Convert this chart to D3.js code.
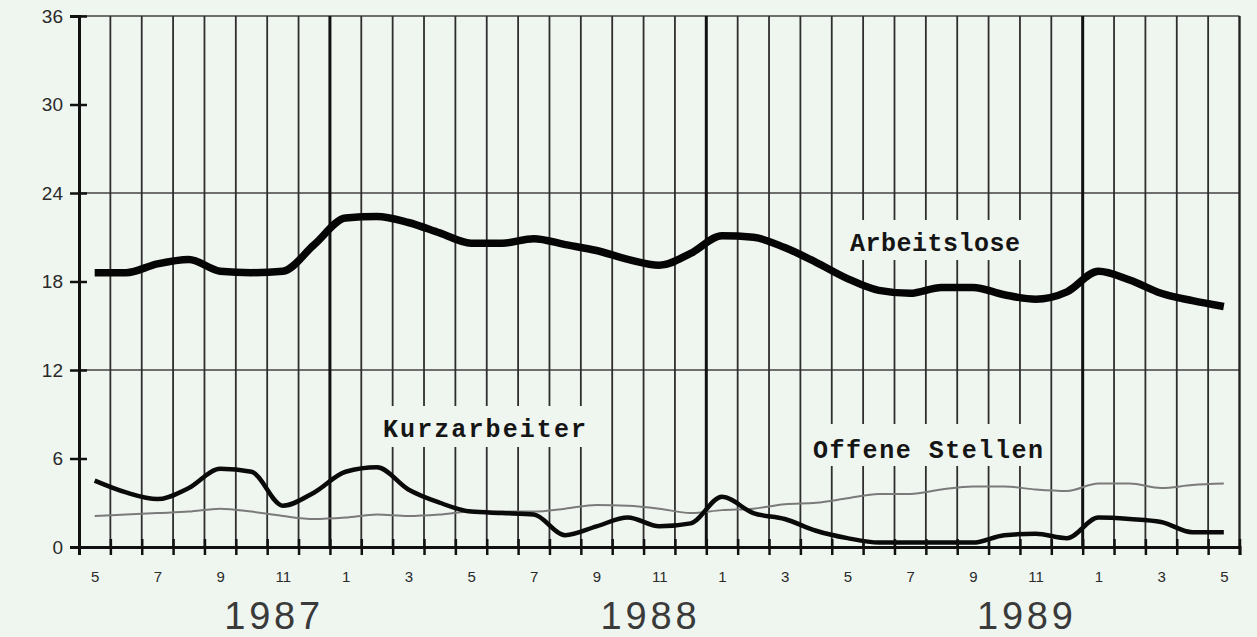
<!DOCTYPE html>
<meta charset="utf-8">
<style>
  html, body { margin: 0; padding: 0; background: #eff6f0; }
  svg { display: block; }
  .lbl { font-family: "Liberation Mono", "DejaVu Sans Mono", monospace; font-weight: bold; fill: #151515; }
</style>
<body>
<div id="chart"></div>
<script src="https://d3js.org/d3.v7.min.js"></script>
<script>
// month numbers, May 1987 .. May 1990
const months = [5,6,7,8,9,10,11,12, 1,2,3,4,5,6,7,8,9,10,11,12, 1,2,3,4,5,6,7,8,9,10,11,12, 1,2,3,4,5];
const yearNames = ["1987", "1988", "1989"];
const yearLabelMonth = [6, 18, 30];   // index of the month the year name sits under
const yTicks = [0, 6, 12, 18, 24, 30, 36];
const yGrid = [12, 24, 36];

// values in 100 000
const arbeitslose = [18.6, 18.6, 19.2, 19.5, 18.7, 18.6, 18.7, 20.5, 22.3, 22.4, 22.0, 21.3,
  20.6, 20.6, 20.9, 20.5, 20.1, 19.5, 19.1, 19.9, 21.1, 21.0, 20.3, 19.3,
  18.2, 17.4, 17.2, 17.6, 17.6, 17.1, 16.8, 17.3, 18.7, 18.1, 17.2, 16.7, 16.3];
const kurzarbeiter = [4.5, 3.7, 3.25, 4.0, 5.3, 5.1, 2.8, 3.7, 5.1, 5.4, 3.9, 3.0,
  2.4, 2.3, 2.2, 0.8, 1.4, 2.0, 1.4, 1.6, 3.4, 2.3, 1.9, 1.1,
  0.6, 0.3, 0.3, 0.3, 0.3, 0.8, 0.9, 0.6, 2.0, 1.9, 1.7, 1.0, 1.0];
const offeneStellen = [2.1, 2.2, 2.3, 2.4, 2.6, 2.4, 2.1, 1.9, 2.0, 2.2, 2.1, 2.2,
  2.4, 2.4, 2.4, 2.6, 2.85, 2.8, 2.6, 2.3, 2.5, 2.6, 2.9, 3.0,
  3.3, 3.6, 3.6, 3.9, 4.1, 4.1, 3.9, 3.8, 4.3, 4.3, 4.0, 4.2, 4.3];

const width = 1257, height = 637;
const margin = {left: 79, right: 17.5, top: 16, bottom: 90};
const bg = "#eff6f0";

const svg = d3.select("#chart").append("svg")
    .attr("width", width)
    .attr("height", height);

const x = d3.scaleLinear().domain([0, months.length]).range([margin.left, width - margin.right]);
const y = d3.scaleLinear().domain([0, 36]).range([height - margin.bottom, margin.top]);

// horizontal grid
svg.append("g").selectAll("line")
    .data(yGrid).join("line")
    .attr("x1", x(0)).attr("x2", x(months.length))
    .attr("y1", d => y(d)).attr("y2", d => y(d))
    .attr("stroke", "#6f6f6f").attr("stroke-width", 2);

// vertical grid, one line per month boundary; heavier at year change
svg.append("g").selectAll("line")
    .data(d3.range(1, months.length + 1)).join("line")
    .attr("x1", d => x(d)).attr("x2", d => x(d))
    .attr("y1", y(36)).attr("y2", y(0))
    .attr("stroke", d => (d < months.length && months[d] === 1) ? "#111" : "#2e2e2e")
    .attr("stroke-width", d => (d < months.length && months[d] === 1) ? 3 : 1.8);

// label boxes cut the grid
const labels = [
  {text: "Arbeitslose", x0: 840, x1: 1035, y0: 220, y1: 260, tx: 850, ty: 251, w: 170},
  {text: "Kurzarbeiter", x0: 375, x1: 598, y0: 406, y1: 447, tx: 383, ty: 437, w: 203},
  {text: "Offene Stellen", x0: 806, x1: 1048, y0: 424, y1: 466, tx: 813, ty: 458, w: 230}
];
svg.append("g").selectAll("rect")
    .data(labels).join("rect")
    .attr("x", d => d.x0).attr("y", d => d.y0)
    .attr("width", d => d.x1 - d.x0).attr("height", d => d.y1 - d.y0)
    .attr("fill", bg);

// series
const line = d3.line()
    .x((d, i) => x(i + 0.5))
    .y(d => y(d))
    .curve(d3.curveMonotoneX);

svg.append("path").datum(offeneStellen)
    .attr("d", line).attr("fill", "none")
    .attr("stroke", "#7a7a7a").attr("stroke-width", 2);
svg.append("path").datum(kurzarbeiter)
    .attr("d", line).attr("fill", "none")
    .attr("stroke", "#0a0a0a").attr("stroke-width", 4.5).attr("stroke-linejoin", "round");
svg.append("path").datum(arbeitslose)
    .attr("d", line).attr("fill", "none")
    .attr("stroke", "#050505").attr("stroke-width", 7.5).attr("stroke-linejoin", "round");

// right border
svg.append("line")
    .attr("x1", x(months.length)).attr("x2", x(months.length))
    .attr("y1", y(36)).attr("y2", y(0))
    .attr("stroke", "#222").attr("stroke-width", 2);

// y axis
const yAxis = svg.append("g")
    .attr("transform", `translate(${margin.left},0)`)
    .call(d3.axisLeft(y).tickValues(yTicks).tickSize(9).tickPadding(7));
yAxis.select(".domain").attr("stroke", "#111").attr("stroke-width", 3);
yAxis.selectAll(".tick line").attr("x1", 8).attr("stroke", "#111").attr("stroke-width", 2.5);
yAxis.selectAll(".tick text")
    .attr("fill", "#2a2a2a")
    .style("font-family", "Liberation Sans, Arial, sans-serif")
    .style("font-size", "19px");

// x axis: ticks at month boundaries
const xAxis = svg.append("g")
    .attr("transform", `translate(0,${y(0)})`)
    .call(d3.axisBottom(x).tickValues(d3.range(0, months.length + 1)).tickSize(8).tickFormat(""));
xAxis.select(".domain").attr("stroke", "#111").attr("stroke-width", 3);
xAxis.selectAll(".tick line").attr("y1", -8).attr("stroke", "#111").attr("stroke-width", 2.5);

// x axis labels at month centres, every other month
const xLab = svg.append("g")
    .attr("transform", `translate(0,${y(0)})`)
    .call(d3.axisBottom(x)
        .tickValues(d3.range(0, months.length, 2).map(i => i + 0.5))
        .tickSize(0).tickPadding(24)
        .tickFormat(d => months[Math.floor(d)]));
xLab.select(".domain").remove();
xLab.selectAll(".tick text")
    .attr("fill", "#2a2a2a")
    .style("font-family", "Liberation Sans, Arial, sans-serif")
    .style("font-size", "15px");

// year names
svg.append("g").selectAll("text")
    .data(yearNames).join("text")
    .attr("x", (d, i) => x(yearLabelMonth[i]) + 5)
    .attr("y", 629)
    .attr("text-anchor", "middle")
    .attr("fill", "#3a3a3a")
    .style("font-family", "Liberation Sans, Arial, sans-serif")
    .style("font-size", "38px")
    .attr("textLength", 96)
    .text(d => d);

// series labels
svg.append("g").selectAll("text")
    .data(labels).join("text")
    .attr("class", "lbl")
    .attr("x", d => d.tx).attr("y", d => d.ty)
    .attr("textLength", d => d.w)
    .style("font-size", "25px")
    .text(d => d.text);
</script>
</body>
